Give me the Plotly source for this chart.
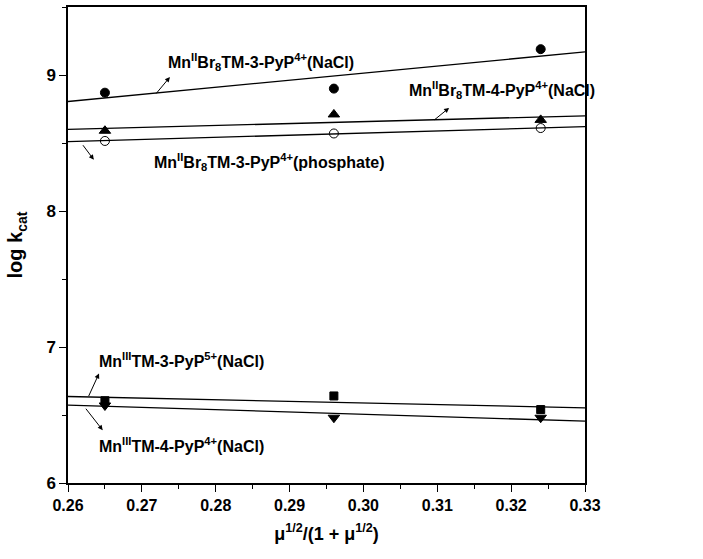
import plotly.graph_objects as go

x_pts = [0.265, 0.296, 0.324]
mn2_3py_nacl = [8.87, 8.90, 9.19]
mn2_4py_nacl = [8.59, 8.71, 8.67]
mn2_3py_phos = [8.515, 8.57, 8.61]
mn3_3py_nacl = [6.605, 6.64, 6.54]
mn3_4py_nacl = [6.57, 6.48, 6.48]

x_fit = [0.26, 0.33]
fit_mn2_3py_nacl = [8.805, 9.17]
fit_mn2_4py_nacl = [8.60, 8.70]
fit_mn2_3py_phos = [8.51, 8.62]
fit_mn3_3py_nacl = [6.636, 6.553]
fit_mn3_4py_nacl = [6.573, 6.455]

FONT = "Liberation Sans Narrow, Arial Narrow, Arial, Liberation Sans, sans-serif"
fig = go.Figure()

series = [
    (mn2_3py_nacl, "circle", "black"),
    (mn2_4py_nacl, "triangle-up", "black"),
    (mn2_3py_phos, "circle-open", "black"),
    (mn3_3py_nacl, "square", "black"),
    (mn3_4py_nacl, "triangle-down", "black"),
]
sizes = [9, 10, 9, 8, 10]
for (vals, sym, col), sz in zip(series, sizes):
    fig.add_trace(go.Scatter(x=x_pts, y=vals, mode="markers",
                             marker=dict(symbol=sym, size=sz, color=col,
                                         line=dict(color="black", width=1)),
                             showlegend=False))

for fit in [fit_mn2_3py_nacl, fit_mn2_4py_nacl, fit_mn2_3py_phos, fit_mn3_3py_nacl, fit_mn3_4py_nacl]:
    fig.add_trace(go.Scatter(x=x_fit, y=fit, mode="lines",
                             line=dict(color="black", width=1.3), showlegend=False))

labels = [
    ("Mn<sup>II</sup>Br<sub>8</sub>TM-3-PyP<sup>4+</sup>(NaCl)", 0.2733, 9.094),
    ("Mn<sup>II</sup>Br<sub>8</sub>TM-4-PyP<sup>4+</sup>(NaCl)", 0.3059, 8.89),
    ("Mn<sup>II</sup>Br<sub>8</sub>TM-3-PyP<sup>4+</sup>(phosphate)", 0.2714, 8.363),
    ("Mn<sup>III</sup>TM-3-PyP<sup>5+</sup>(NaCl)", 0.2639, 6.907),
    ("Mn<sup>III</sup>TM-4-PyP<sup>4+</sup>(NaCl)", 0.2639, 6.278),
]
for txt, x, y in labels:
    fig.add_annotation(x=x, y=y, text="<b>" + txt + "</b>", showarrow=False,
                       xanchor="left", yanchor="middle",
                       font=dict(family=FONT, size=16, color="black"))

arrows = [
    (0.2738, 8.985, -15, 18),
    (0.3116, 8.758, -16, 13),
    (0.2635, 8.377, -12, -16),
    (0.2642, 6.805, -11, 24),
    (0.2647, 6.388, -18, -23),
]
for x, y, ax, ay in arrows:
    fig.add_annotation(x=x, y=y, ax=ax, ay=ay, text="", showarrow=True,
                       arrowhead=2, arrowsize=1, arrowwidth=1, arrowcolor="black")

fig.update_layout(
    width=703, height=559,
    margin=dict(l=68, r=118, t=5, b=76),
    plot_bgcolor="white", paper_bgcolor="white",
    font=dict(family=FONT, color="black"),
)
fig.update_xaxes(
    range=[0.26, 0.33], dtick=0.01, tickformat=".2f",
    showgrid=False, zeroline=False,
    showline=True, linecolor="black", linewidth=1.5, mirror=True,
    ticks="outside", ticklen=7, tickwidth=1.3, tickcolor="black",
    minor=dict(dtick=0.005, ticks="outside", ticklen=4, tickwidth=1.3, tickcolor="black"),
    tickfont=dict(family=FONT, size=16, color="black", weight="bold"),
    title=dict(text="<b>μ<sup>1/2</sup>/(1 + μ<sup>1/2</sup>)</b>", standoff=14,
               font=dict(family=FONT, size=18, color="black")),
)
fig.update_yaxes(
    range=[6, 9.5], dtick=1,
    showgrid=False, zeroline=False,
    showline=True, linecolor="black", linewidth=1.5, mirror=True,
    ticks="outside", ticklen=7, tickwidth=1.3, tickcolor="black",
    minor=dict(dtick=0.5, ticks="outside", ticklen=4, tickwidth=1.3, tickcolor="black"),
    tickfont=dict(family=FONT, size=17, color="black", weight="bold"),
    title=dict(text="<b>log k<sub>cat</sub></b>", standoff=18,
               font=dict(family=FONT, size=20, color="black")),
)

fig.write_html("out.html", config={"displayModeBar": False},
               post_script="document.body.style.margin='0';document.body.style.overflow='hidden';")
